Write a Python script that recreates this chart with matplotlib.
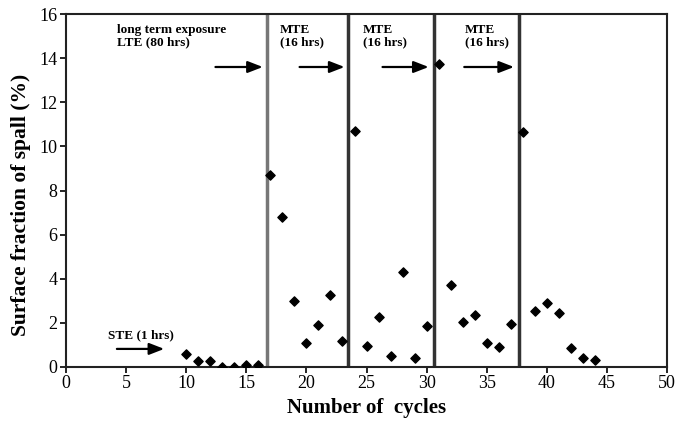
import numpy as np
import matplotlib
matplotlib.use('Agg')
import matplotlib.pyplot as plt

plt.rcParams['font.family'] = ['Liberation Serif', 'DejaVu Serif']

# data
cycles = [10, 11, 12, 13, 14, 15, 16,
          17, 18, 19, 20, 21, 22, 23,
          24, 25, 26, 27, 28, 29, 30,
          31, 32, 33, 34, 35, 36, 37,
          38, 39, 40, 41, 42, 43, 44]
spall = [0.6, 0.25, 0.25, 0.02, 0.02, 0.08, 0.1,
         8.7, 6.8, 3.0, 1.1, 1.9, 3.25, 1.2,
         10.7, 0.95, 2.25, 0.5, 4.3, 0.4, 1.85,
         13.75, 3.7, 2.05, 2.35, 1.1, 0.9, 1.95,
         10.65, 2.55, 2.9, 2.45, 0.85, 0.4, 0.3]

boundaries = [16.7, 23.5, 30.6, 37.7]
boundary_colors = ['#777777', '#333333', '#333333', '#333333']

arrow_starts = [12.2, 19.2, 26.1, 32.9]
arrow_ends = [16.6, 23.4, 30.4, 37.5]
arrow_y = 13.6

labels = ['long term exposure\nLTE (80 hrs)', 'MTE\n(16 hrs)', 'MTE\n(16 hrs)', 'MTE\n(16 hrs)']
label_x = [4.25, 17.8, 24.7, 33.2]

fig, ax = plt.subplots(figsize=(6.98, 4.26), dpi=100)
fig.subplots_adjust(left=0.0946, right=0.9556, top=0.967, bottom=0.1385)

ax.scatter(cycles, spall, marker='D', s=22, color='black', zorder=3)

for xb, c in zip(boundaries, boundary_colors):
    ax.axvline(xb, color=c, lw=2.5, zorder=2)

for x0, x1 in zip(arrow_starts, arrow_ends):
    ax.annotate('', xy=(x1, arrow_y), xytext=(x0, arrow_y),
                arrowprops=dict(arrowstyle='-|>,head_length=0.9,head_width=0.35',
                                color='black', lw=1.6))

for t, x in zip(labels, label_x):
    ax.text(x, 15.55, t, fontsize=9.5, fontweight='bold', va='top', ha='left',
            linespacing=1.05)

# short-term exposure
ax.text(3.5, 1.45, 'STE (1 hrs)', fontsize=9.5, fontweight='bold', va='center')
ax.annotate('', xy=(8.4, 0.82), xytext=(4.0, 0.82),
            arrowprops=dict(arrowstyle='-|>,head_length=0.9,head_width=0.35',
                            color='black', lw=1.6))

ax.set_xlim(0, 50)
ax.set_ylim(0, 16)
ax.set_xticks(np.arange(0, 51, 5))
ax.set_yticks(np.arange(0, 17, 2))
ax.tick_params(labelsize=13, direction='out', length=4, width=1.2, pad=2)
for s in ax.spines.values():
    s.set_linewidth(1.5)
    s.set_color('#222222')

ax.set_xlabel('Number of  cycles', fontsize=15, fontweight='bold')
ax.set_ylabel('Surface fraction of spall (%)', fontsize=15.5, fontweight='bold')
ax.yaxis.set_label_coords(-0.058, 0.46)

plt.savefig('out.png', dpi=100)
